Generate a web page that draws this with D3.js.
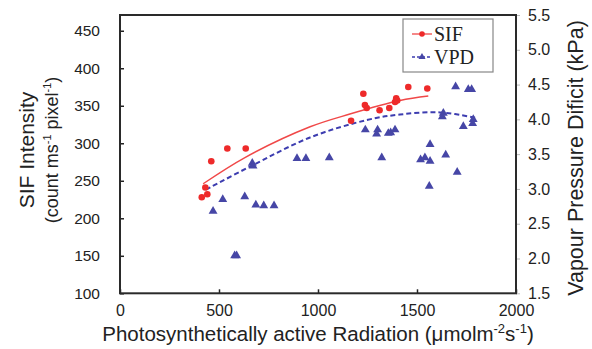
<!DOCTYPE html>
<html><head><meta charset="utf-8">
<script src="https://cdn.jsdelivr.net/npm/d3@7"></script>
<style>
html,body{margin:0;padding:0;background:#fff;}
svg{display:block;}
text{font-family:"Liberation Sans",Arial,sans-serif;fill:#222;}
</style></head>
<body>
<svg id="chart" width="592" height="349"></svg>
<script>
// ---- data ----
const sifPAR = [413,441,431,461,542,635,1167,1229,1237,1246,1311,1360,1389,1395,1400,1456,1552];
const sifVal = [228,232,241,276,293,293,330,366,351,347,344,347,355,360,357,375,373];

const vpdPAR = [470,519,579,589,630,668,672,686,726,778,894,939,1057,1239,1301,1296,1355,1367,1389,1322,
                1518,1540,1566,1566,1562,1645,1703,1633,1628,1695,1759,1776,1734,1784,1781];
const vpdVal = [2.68,2.85,2.04,2.04,2.89,3.37,3.33,2.77,2.76,2.76,3.44,3.44,3.45,3.85,3.85,3.79,3.80,3.81,3.85,3.45,
                3.42,3.45,3.40,3.64,3.04,3.49,3.24,4.09,4.04,4.47,4.43,4.43,3.90,4.00,3.94];

// trend lines
const sifTrendPAR = [420,631,960,1161,1414,1557];
const sifTrendVal = [246,281,322,339,357,363];
const vpdTrendPAR = [434,656,960,1246,1414,1616,1801];
const vpdTrendVal = [2.99,3.32,3.74,3.99,4.07,4.10,4.02];

const xTicks = [0,500,1000,1500,2000];
const yLeftTicks = [100,150,200,250,300,350,400,450];
const yRightTicks = [1.5,2.0,2.5,3.0,3.5,4.0,4.5,5.0,5.5];
const seriesNames = ["SIF","VPD"];

// ---- drawing ----
const svg = d3.select("#chart");
const L = 120, R = 516, T = 15, B = 293.3;
const x = d3.scaleLinear().domain([0,2000]).range([L,R]);
const yL = d3.scaleLinear().domain([100,471]).range([B,T]);
const yR = d3.scaleLinear().domain([1.5,5.5]).range([B,T]);
const red = "#ee2a2a", blue = "#4646a6";

// bottom axis
const gx = svg.append("g").attr("transform",`translate(0,${B})`)
  .call(d3.axisBottom(x).tickValues(xTicks).tickFormat(d3.format("d")).tickSizeInner(-4).tickSizeOuter(0).tickPadding(11));
gx.select(".domain").remove();
gx.selectAll("line").attr("stroke","#222").attr("stroke-width",1.5);
gx.selectAll("text").attr("font-size",16).attr("fill","#222");

// left axis
const gl = svg.append("g").attr("transform",`translate(${L},0)`)
  .call(d3.axisLeft(yL).tickValues(yLeftTicks).tickSizeInner(-4).tickSizeOuter(0).tickPadding(20));
gl.select(".domain").remove();
gl.selectAll("line").attr("stroke","#222").attr("stroke-width",1.5);
gl.selectAll("text").attr("font-size",15.5).attr("fill","#222");

// right axis
const gr = svg.append("g").attr("transform",`translate(${R},0)`)
  .call(d3.axisRight(yR).tickValues(yRightTicks).tickFormat(d3.format(".1f")).tickSizeInner(4).tickSizeOuter(0).tickPadding(8));
gr.select(".domain").remove();
gr.selectAll("line").attr("stroke","#bbb").attr("stroke-width",1);
gr.selectAll("text").attr("font-size",16).attr("fill","#222");

// plot frame
svg.append("rect").attr("x",L).attr("y",T).attr("width",R-L).attr("height",B-T)
  .attr("fill","none").attr("stroke","#2a2a2a").attr("stroke-width",2);

// trend lines
const sifTrend = sifTrendPAR.map((p,i)=>[x(p),yL(sifTrendVal[i])]);
const vpdTrend = vpdTrendPAR.map((p,i)=>[x(p),yR(vpdTrendVal[i])]);
const line = d3.line().curve(d3.curveCatmullRom);
svg.append("path").attr("d",line(sifTrend)).attr("fill","none").attr("stroke","#f04848").attr("stroke-width",1.4);
svg.append("path").attr("d",line(vpdTrend)).attr("fill","none").attr("stroke","#3d3db0").attr("stroke-width",2).attr("stroke-dasharray","5,3");

// VPD triangles
const tri = d3.symbol().type(d3.symbolTriangle).size(34);
svg.append("g").selectAll("path").data(vpdPAR).join("path")
  .attr("d",tri).attr("transform",(d,i)=>`translate(${x(d)},${yR(vpdVal[i])})`)
  .attr("fill",blue);

// SIF circles
svg.append("g").selectAll("circle").data(sifPAR).join("circle")
  .attr("cx",d=>x(d)).attr("cy",(d,i)=>yL(sifVal[i])).attr("r",3.3).attr("fill",red);

// legend
const lg = svg.append("g");
lg.append("rect").attr("x",403).attr("y",19).attr("width",90).attr("height",53)
  .attr("fill","#fff").attr("stroke","#888").attr("stroke-width",1.2);
const ly = [34,57];
lg.append("line").attr("x1",412).attr("x2",432).attr("y1",ly[0]).attr("y2",ly[0]).attr("stroke","#f04848").attr("stroke-width",1.3);
lg.append("circle").attr("cx",422).attr("cy",ly[0]).attr("r",2.8).attr("fill",red);
lg.append("line").attr("x1",412).attr("x2",432).attr("y1",ly[1]).attr("y2",ly[1]).attr("stroke","#3d3db0").attr("stroke-width",1.3).attr("stroke-dasharray","3,2");
lg.append("path").attr("d",d3.symbol().type(d3.symbolTriangle).size(22)).attr("transform",`translate(422,${ly[1]})`).attr("fill",blue);
seriesNames.forEach((s,i)=>{
  lg.append("text").attr("x",434).attr("y",ly[i]+7).text(s)
    .style("font-family","'Liberation Serif','Times New Roman',serif").attr("font-size",20).attr("fill","#111");
});

// axis titles
const xt = svg.append("text").attr("x",318).attr("y",341).attr("text-anchor","middle").attr("font-size",20.5);
xt.append("tspan").text("Photosynthetically active Radiation (\u03bcmolm");
xt.append("tspan").text("-2").attr("font-size",13).attr("dy",-8);
xt.append("tspan").text("s").attr("dy",8);
xt.append("tspan").text("-1").attr("font-size",13).attr("dy",-8);
xt.append("tspan").text(")").attr("dy",8);

const lt = svg.append("g").attr("transform","translate(34,150) rotate(-90)");
lt.append("text").attr("text-anchor","middle").attr("font-size",21).text("SIF Intensity");
const lt2 = lt.append("text").attr("text-anchor","middle").attr("y",24).attr("font-size",18);
lt2.append("tspan").text("(count ms");
lt2.append("tspan").text("-1").attr("font-size",11).attr("dy",-7);
lt2.append("tspan").text(" pixel").attr("dy",7);
lt2.append("tspan").text("-1").attr("font-size",11).attr("dy",-7);
lt2.append("tspan").text(")").attr("dy",7);

svg.append("text").attr("transform","translate(583,158) rotate(-90)").attr("text-anchor","middle")
  .attr("font-size",21.5).text("Vapour Pressure Dificit (kPa)");
</script>
</body></html>
